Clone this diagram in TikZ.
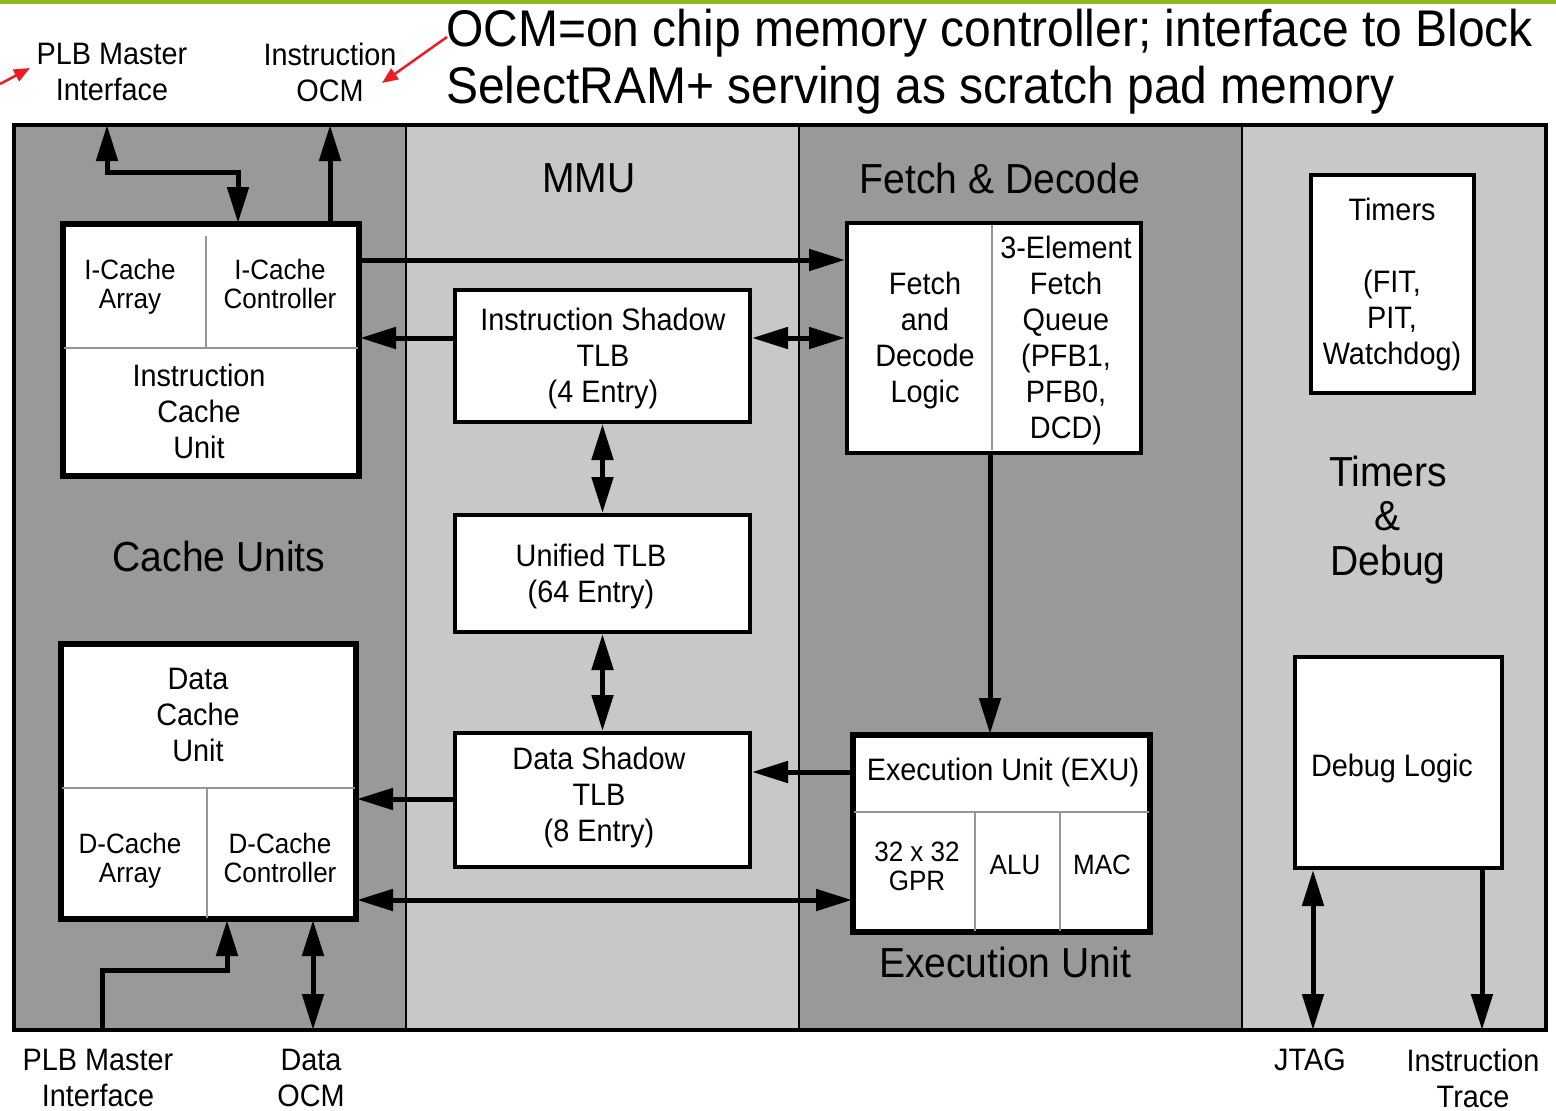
\documentclass[tikz,border=0pt]{standalone}
\usepackage{fontspec}
\newfontfamily\nf{Liberation Sans}[FakeStretch=0.93]
\usetikzlibrary{arrows.meta}
\definecolor{dk}{RGB}{153,153,153}
\definecolor{lt}{RGB}{200,200,200}
\definecolor{grn}{RGB}{140,186,30}
\definecolor{lnk}{RGB}{150,150,150}
\definecolor{rd}{RGB}{235,28,36}
\tikzset{
  bus/.style={line width=5pt},
  arr/.style={bus,-{Triangle[width=21pt,length=36pt]}},
  darr/.style={bus,{Triangle[width=21pt,length=36pt]}-{Triangle[width=21pt,length=36pt]}},
  blk/.style={draw,line width=4pt,fill=white,inner sep=0pt},
  divl/.style={draw=lnk,line width=1.5pt},
  tx/.style={font=\nf\fontsize{31}{36}\selectfont,align=center,inner sep=0pt},
  sm/.style={font=\nf\fontsize{28}{29}\selectfont,align=center,inner sep=0pt},
  big/.style={font=\nf\fontsize{42}{44.5}\selectfont,align=center,inner sep=0pt},
  redarr/.style={draw=rd,line width=2.5pt,-{Triangle[width=13pt,length=16pt]}}
}
\begin{document}
\begin{tikzpicture}[x=1pt,y=-1pt]
\useasboundingbox (0,0) rectangle (1556,1111);
\fill[white] (0,0) rectangle (1556,1111);
\fill[grn] (0,0) rectangle (1556,4);
% columns
\fill[dk] (12,123) rectangle (406,1032);
\fill[lt] (406,123) rectangle (799,1032);
\fill[dk] (799,123) rectangle (1242,1032);
\fill[lt] (1242,123) rectangle (1548,1032);
\draw[line width=1.5pt] (406,123) -- (406,1032);
\draw[line width=1.5pt] (799,123) -- (799,1032);
\draw[line width=1.5pt] (1242,123) -- (1242,1032);
\node[draw,line width=4pt,minimum width=1532pt,minimum height=905pt,inner sep=0pt,outer sep=0pt] (frame) at (780,577.5) {};
% boxes
\node[blk,minimum width=294pt,minimum height=250pt] (icu) at (211,350) {};
\node[blk,minimum width=295pt,minimum height=132pt] (isht) at (602.5,356) {};
\node[blk,minimum width=295pt,minimum height=117pt] (utlb) at (602.5,573.5) {};
\node[blk,minimum width=295pt,minimum height=134pt] (dsht) at (602.5,800) {};
\node[blk,minimum width=293pt,minimum height=273pt] (dcu) at (208.5,781.5) {};
\node[blk,minimum width=294pt,minimum height=230pt] (fdl) at (994,338) {};
\node[blk,minimum width=295pt,minimum height=195pt] (exu) at (1001.5,833.5) {};
\node[blk,minimum width=163pt,minimum height=218pt] (tmr) at (1392.5,284) {};
\node[blk,minimum width=207pt,minimum height=211pt] (dbg) at (1398.5,762.5) {};
% internal dividers
\draw[divl] (206,236) -- (206,348);
\draw[divl] (icu.west |- 0,348) -- (icu.east |- 0,348);
\draw[divl] (dcu.west |- 0,788) -- (dcu.east |- 0,788);
\draw[divl] (207,788) -- (207,930);
\draw[divl] (992,225) -- (992,450);
\draw[divl] (exu.west |- 0,812) -- (exu.east |- 0,812);
\draw[divl] (975,812) -- (975,0 |- exu.south);
\draw[divl] (1060,812) -- (1060,0 |- exu.south);
% redraw box outlines over dividers
\foreach \b in {icu,dcu,exu}{\draw[line width=4pt] (\b.south west) rectangle (\b.north east);}
% connectors
\draw[darr] (107,0 |- frame.north) -- (107,172) -- (238,172) -- (238,0 |- icu.north);
\draw[arr] (330,0 |- icu.north) -- (330,0 |- frame.north);
\draw[arr] (icu.east |- 0,260) -- (fdl.west |- 0,260);
\draw[arr] (isht.west |- 0,338) -- (icu.east |- 0,338);
\draw[darr] (isht.east |- 0,338) -- (fdl.west |- 0,338);
\draw[darr] (isht.south) -- (utlb.north);
\draw[darr] (utlb.south) -- (dsht.north);
\draw[arr] (990,0 |- fdl.south) -- (990,0 |- exu.north);
\draw[arr] (exu.west |- 0,772) -- (dsht.east |- 0,772);
\draw[arr] (dsht.west |- 0,799) -- (dcu.east |- 0,799);
\draw[darr] (dcu.east |- 0,900) -- (exu.west |- 0,900);
\draw[arr] (102,0 |- frame.south) -- (102,970) -- (227,970) -- (227,0 |- dcu.south);
\draw[darr] (313,0 |- dcu.south) -- (313,0 |- frame.south);
\draw[darr] (1313,0 |- dbg.south) -- (1313,0 |- frame.south);
\draw[arr] (1482,0 |- dbg.south) -- (1482,0 |- frame.south);
% texts in boxes
\node[sm] (t1) at (130,287) {I-Cache\\Array};
\node[sm] (t2) at (280,284) {I-Cache\\Controller};
\node[tx] (t3) at (199,411) {Instruction\\Cache\\Unit};
\node[tx] (t4) at (198,715) {Data\\Cache\\Unit};
\node[sm] (t5) at (130,861) {D-Cache\\Array};
\node[sm] (t6) at (280,858) {D-Cache\\Controller};
\node[tx] (t7) at (603,358) {Instruction Shadow\\TLB\\(4 Entry)};
\node[tx] (t8) at (591,576) {Unified TLB\\(64 Entry)};
\node[tx] (t9) at (599,797) {Data Shadow\\TLB\\(8 Entry)};
\node[tx] (t10) at (925,340) {Fetch\\and\\Decode\\Logic};
\node[tx] (t11) at (1066,340) {3-Element\\Fetch\\Queue\\(PFB1,\\PFB0,\\DCD)};
\node[tx] (t12) at (1003,772) {Execution Unit (EXU)};
\node[sm] (t13) at (917,866) {32 x 32\\GPR};
\node[sm] (t14) at (1015,865) {ALU};
\node[sm] (t15) at (1102,865) {MAC};
\node[tx] (t16) at (1392,284) {Timers\\[36pt](FIT,\\PIT,\\Watchdog)};
\node[tx] (t17) at (1392,768) {Debug Logic};
% section labels
\node[big] (s1) at (589,178) {MMU};
\node[big] (s2) at (1000,178) {Fetch \& Decode};
\node[big] (s3) at (219,556) {Cache Units};
\node[big] (s4) at (1388,520) {Timers\\\&\\Debug};
\node[big] (s5) at (1005,962) {Execution Unit};
% outer labels
\node[tx] (o1) at (112,72) {PLB Master\\Interface};
\node[tx] (o2) at (330,72) {Instruction\\OCM};
\node[tx] (o3) at (98,1078) {PLB Master\\Interface};
\node[tx] (o4) at (311,1078) {Data\\OCM};
\node[tx] (o5) at (1310,1060) {JTAG};
\node[tx] (o6) at (1473,1078) {Instruction\\Trace};
\node[font=\nf\fontsize{51.6}{57}\selectfont,align=left,inner sep=0pt,anchor=west] (ann) at (446,62) {OCM=on chip memory controller; interface to Block\\SelectRAM+ serving as scratch pad memory};
% red pointers
\coordinate (r1s) at (0,84);
\coordinate (r1e) at (30,68);
\coordinate (r2s) at (447,37);
\coordinate (r2e) at (382,83);
\draw[redarr] (r1s) -- (r1e);
\draw[redarr] (r2s) -- (r2e);
\end{tikzpicture}
\end{document}
